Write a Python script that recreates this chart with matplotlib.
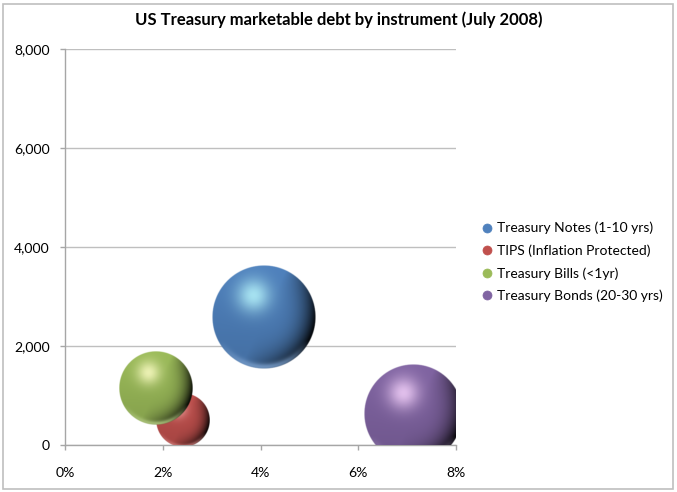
import numpy as np
import matplotlib
matplotlib.use("Agg")
import matplotlib.pyplot as plt
from matplotlib.lines import Line2D
from matplotlib.patches import Rectangle
from matplotlib.colors import to_rgb

# ---- data ----
series = ["Treasury Notes (1-10 yrs)", "TIPS (Inflation Protected)",
          "Treasury Bills (<1yr)", "Treasury Bonds (20-30 yrs)"]
yield_pct = [4.06, 2.41, 1.85, 7.13]          # x values (%)
debt_bn = [2588, 499, 1136, 629]              # y values
bubble_size = [100, 27, 50, 91]               # relative bubble sizes (area)
colors = ["#4F81BD", "#C0504D", "#9BBB59", "#8064A2"]
x_ticks = [0, 2, 4, 6, 8]
y_ticks = [0, 2000, 4000, 6000, 8000]
title = "US Treasury marketable debt by instrument (July 2008)"

FONT = ["Lato", "DejaVu Sans"]
plt.rcParams["font.family"] = FONT

W, H = 677, 492
fig = plt.figure(figsize=(W / 100, H / 100), dpi=100)
fig.patch.set_facecolor("white")

left_px, right_px, top_px, bottom_px = 65, 456, 49, 445
ax = fig.add_axes([left_px / W, 1 - bottom_px / H,
                   (right_px - left_px) / W, (bottom_px - top_px) / H])
ax.set_xlim(0, 8)
ax.set_ylim(0, 8000)
ax.set_xticks(x_ticks)
ax.set_xticklabels([f"{v}%" for v in x_ticks])
ax.set_yticks(y_ticks)
ax.set_yticklabels([f"{v:,}" for v in y_ticks])
for s in ["top", "right"]:
    ax.spines[s].set_visible(False)
for s in ["left", "bottom"]:
    ax.spines[s].set_color("#A6A6A6")
    ax.spines[s].set_linewidth(1.0)
ax.tick_params(axis="both", colors="#A6A6A6", length=3.6, width=1,
               labelcolor="black", labelsize=10.1, direction="out")
ax.tick_params(axis="x", pad=12.5)
ax.tick_params(axis="y", pad=7.2)
ax.yaxis.grid(True, color="#BFBFBF", linewidth=1.0)
ax.set_axisbelow(True)


def sphere_image(color, n=240):
    base = np.array(to_rgb(color))
    yy, xx = np.mgrid[1:-1:n * 1j, -1:1:n * 1j]
    d = np.sqrt(xx ** 2 + yy ** 2)
    inside = np.clip((1 - d) * n / 2.5, 0, 1)
    rim = np.clip(d, 0, 1) ** 2.5
    dark = np.clip(0.75 * xx - 0.35 * yy, 0, None)
    shade = 1 - 0.92 * np.clip(dark * rim * 1.35, 0, 1)
    shade = shade * (0.93 + 0.07 * yy)
    rgb = base[None, None, :] * shade[..., None]
    # specular highlight (tinted)
    hx, hy = -0.2, 0.42
    hd = np.sqrt((xx - hx) ** 2 + (yy - hy) ** 2)
    spec = np.exp(-(hd / 0.32) ** 2) * 0.8
    tint = np.clip(base * 1.25 + 0.35, 0, 1)
    rgb = rgb + (tint - rgb) * spec[..., None]
    # lighter rim at bottom (reflected light)
    ring = np.exp(-((d - 0.96) / 0.07) ** 2) * np.clip(-yy - 0.45, 0, 1) * 1.6
    light = base + 0.25 * (1 - base)
    rgb = rgb + (light - rgb) * np.clip(ring, 0, 1)[..., None]
    rgb = np.clip(rgb, 0, 1)
    return np.dstack([rgb, inside])


fig.canvas.draw()
bb = ax.get_window_extent()
max_r_px = 51.7
smax = max(bubble_size)
for x, y, s, c in zip(yield_pct, debt_bn, bubble_size, colors):
    r_px = max_r_px * np.sqrt(s / smax)
    rx = r_px / bb.width * (ax.get_xlim()[1] - ax.get_xlim()[0])
    ry = r_px / bb.height * (ax.get_ylim()[1] - ax.get_ylim()[0])
    ax.imshow(sphere_image(c), extent=[x - rx, x + rx, y - ry, y + ry],
              aspect="auto", interpolation="bilinear", zorder=3, clip_on=True)
ax.set_xlim(0, 8)
ax.set_ylim(0, 8000)

fig.text(0.5, 1 - 20 / H, title, ha="center", va="center",
         fontsize=12, fontweight="bold")

handles = [Line2D([], [], marker="o", linestyle="none", markersize=6.5,
                  markerfacecolor=c, markeredgecolor=c, markeredgewidth=0.5)
           for c in colors]
fig.legend(handles, series, loc="center left",
           bbox_to_anchor=(466 / W, 1 - 262 / H), frameon=False,
           fontsize=10.0, handletextpad=0.1, labelspacing=0.72,
           handlelength=1.2)

fig.add_artist(Rectangle((3 / W, 3 / H), (W - 7) / W, (H - 7) / H,
                         transform=fig.transFigure, fill=False,
                         edgecolor="#BFBFBF", linewidth=1.2))

fig.savefig("out.png", dpi=100)
